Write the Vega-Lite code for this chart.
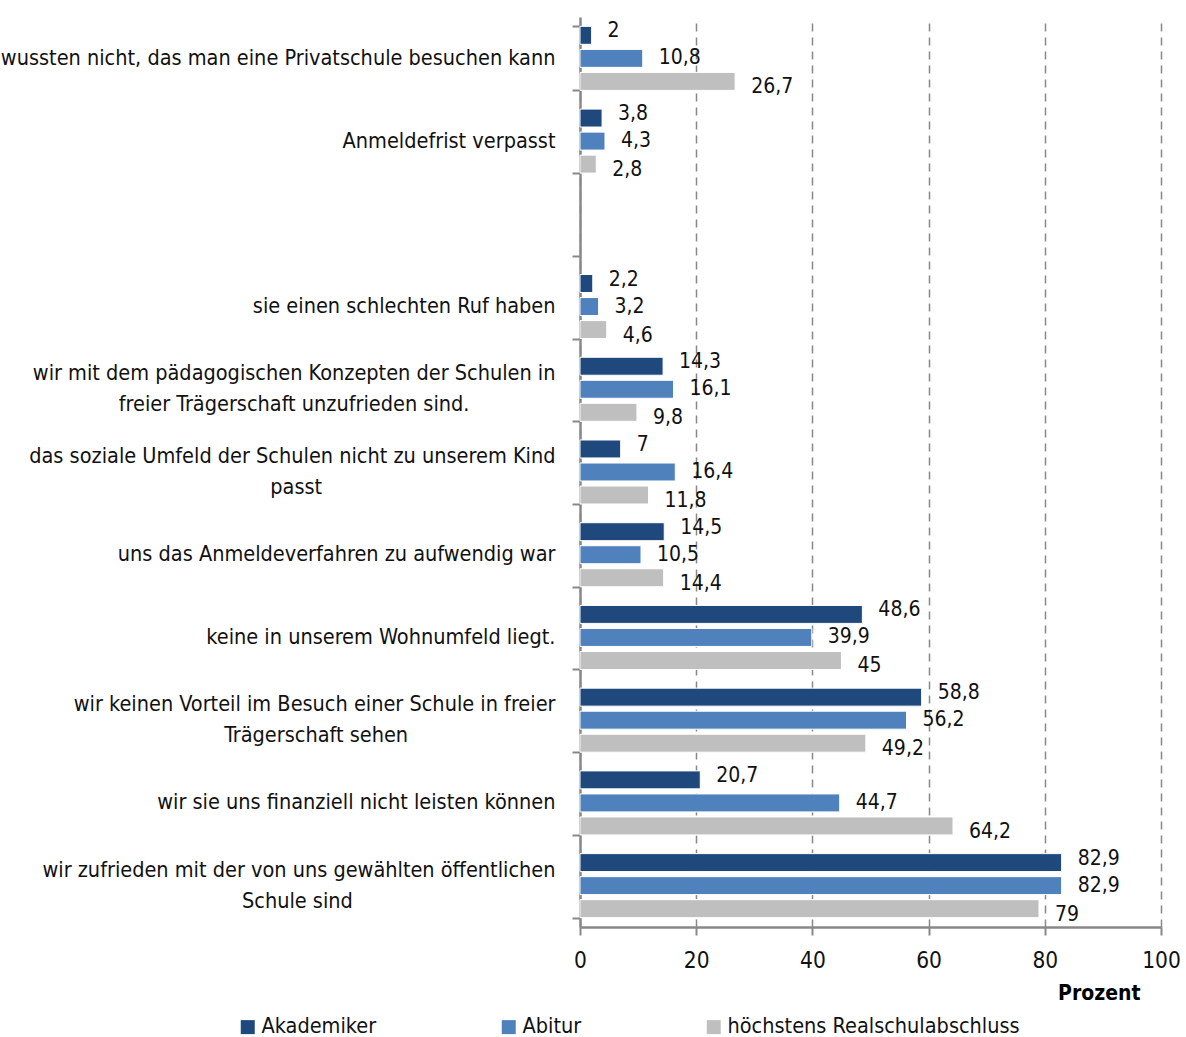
{
  "$schema": "https://vega.github.io/schema/vega-lite/v6.json",
  "autosize": {"type": "none"},
  "width": 581,
  "height": 910,
  "padding": {"left": 580, "top": 17, "right": 25, "bottom": 110},
  "background": "white",
  "config": {
    "locale": {"number": {"decimal": ",", "thousands": ".", "grouping": [3], "currency": ["", " €"]}},
    "font": "DejaVu Sans Condensed, sans-serif",
    "view": {"stroke": null},
    "axis": {"labelFont": "DejaVu Sans Condensed, sans-serif", "titleFont": "DejaVu Sans Condensed, sans-serif", "labelColor": "#111111", "titleColor": "#000"},
    "legend": {"labelFont": "DejaVu Sans Condensed, sans-serif"},
    "text": {"font": "DejaVu Sans Condensed, sans-serif"}
  },
  "data": {"values": [
    {"cat": "wussten nicht, das man eine Privatschule besuchen kann", "group": "Akademiker", "value": 2},
    {"cat": "wussten nicht, das man eine Privatschule besuchen kann", "group": "Abitur", "value": 10.8},
    {"cat": "wussten nicht, das man eine Privatschule besuchen kann", "group": "höchstens Realschulabschluss", "value": 26.7},
    {"cat": "Anmeldefrist verpasst", "group": "Akademiker", "value": 3.8},
    {"cat": "Anmeldefrist verpasst", "group": "Abitur", "value": 4.3},
    {"cat": "Anmeldefrist verpasst", "group": "höchstens Realschulabschluss", "value": 2.8},
    {"cat": "sie einen schlechten Ruf haben", "group": "Akademiker", "value": 2.2},
    {"cat": "sie einen schlechten Ruf haben", "group": "Abitur", "value": 3.2},
    {"cat": "sie einen schlechten Ruf haben", "group": "höchstens Realschulabschluss", "value": 4.6},
    {"cat": "wir mit dem pädagogischen Konzepten der Schulen in|freier Trägerschaft unzufrieden sind.", "group": "Akademiker", "value": 14.3},
    {"cat": "wir mit dem pädagogischen Konzepten der Schulen in|freier Trägerschaft unzufrieden sind.", "group": "Abitur", "value": 16.1},
    {"cat": "wir mit dem pädagogischen Konzepten der Schulen in|freier Trägerschaft unzufrieden sind.", "group": "höchstens Realschulabschluss", "value": 9.8},
    {"cat": "das soziale Umfeld der Schulen nicht zu unserem Kind|passt", "group": "Akademiker", "value": 7},
    {"cat": "das soziale Umfeld der Schulen nicht zu unserem Kind|passt", "group": "Abitur", "value": 16.4},
    {"cat": "das soziale Umfeld der Schulen nicht zu unserem Kind|passt", "group": "höchstens Realschulabschluss", "value": 11.8},
    {"cat": "uns das Anmeldeverfahren zu aufwendig war", "group": "Akademiker", "value": 14.5},
    {"cat": "uns das Anmeldeverfahren zu aufwendig war", "group": "Abitur", "value": 10.5},
    {"cat": "uns das Anmeldeverfahren zu aufwendig war", "group": "höchstens Realschulabschluss", "value": 14.4},
    {"cat": "keine in unserem Wohnumfeld liegt.", "group": "Akademiker", "value": 48.6},
    {"cat": "keine in unserem Wohnumfeld liegt.", "group": "Abitur", "value": 39.9},
    {"cat": "keine in unserem Wohnumfeld liegt.", "group": "höchstens Realschulabschluss", "value": 45},
    {"cat": "wir keinen Vorteil im Besuch einer Schule in freier|Trägerschaft sehen", "group": "Akademiker", "value": 58.8},
    {"cat": "wir keinen Vorteil im Besuch einer Schule in freier|Trägerschaft sehen", "group": "Abitur", "value": 56.2},
    {"cat": "wir keinen Vorteil im Besuch einer Schule in freier|Trägerschaft sehen", "group": "höchstens Realschulabschluss", "value": 49.2},
    {"cat": "wir sie uns finanziell nicht leisten können", "group": "Akademiker", "value": 20.7},
    {"cat": "wir sie uns finanziell nicht leisten können", "group": "Abitur", "value": 44.7},
    {"cat": "wir sie uns finanziell nicht leisten können", "group": "höchstens Realschulabschluss", "value": 64.2},
    {"cat": "wir zufrieden mit der von uns gewählten öffentlichen|Schule sind", "group": "Akademiker", "value": 82.9},
    {"cat": "wir zufrieden mit der von uns gewählten öffentlichen|Schule sind", "group": "Abitur", "value": 82.9},
    {"cat": "wir zufrieden mit der von uns gewählten öffentlichen|Schule sind", "group": "höchstens Realschulabschluss", "value": 79}
  ]},
  "encoding": {
    "y": {
      "field": "cat", "type": "nominal", "sort": null,
      "scale": {
        "domain": [
          "wussten nicht, das man eine Privatschule besuchen kann",
          "Anmeldefrist verpasst",
          " ",
          "sie einen schlechten Ruf haben",
          "wir mit dem pädagogischen Konzepten der Schulen in|freier Trägerschaft unzufrieden sind.",
          "das soziale Umfeld der Schulen nicht zu unserem Kind|passt",
          "uns das Anmeldeverfahren zu aufwendig war",
          "keine in unserem Wohnumfeld liegt.",
          "wir keinen Vorteil im Besuch einer Schule in freier|Trägerschaft sehen",
          "wir sie uns finanziell nicht leisten können",
          "wir zufrieden mit der von uns gewählten öffentlichen|Schule sind"
        ],
        "paddingInner": 0.226, "paddingOuter": 0.113
      },
      "axis": {
        "title": null,
        "labelExpr": "indexof(datum.label, '|') < 0 ? datum.label : [split(datum.label, '|')[0], split(datum.label, '|')[1] + pad('\u00a0', indexof(datum.label, 'Konzepten') >= 0 ? 14 : indexof(datum.label, 'Umfeld') >= 0 ? 38 : indexof(datum.label, 'Vorteil') >= 0 ? 24 : 33, '\u00a0') + '\u200b']",
        "labelOffset": {"condition": {"test": "indexof(datum.label, '|') >= 0", "value": -15.5}, "value": 0},
        "labelFontSize": 21.5,
        "labelLineHeight": 31,
        "labelPadding": 17,
        "labelLimit": 700,
        "tickBand": "extent",
        "tickSize": 8,
        "tickWidth": 2,
        "tickColor": "#888888",
        "domainColor": "#888888",
        "domainWidth": 2.5
      }
    },
    "yOffset": {
      "field": "group", "type": "nominal",
      "scale": {"domain": ["Akademiker", "Abitur", "höchstens Realschulabschluss"], "paddingInner": 0.22}
    },
    "x": {
      "field": "value", "type": "quantitative",
      "scale": {"domain": [0, 100], "nice": false},
      "axis": {
        "title": "Prozent",
        "values": [0, 20, 40, 60, 80, 100],
        "labelFontSize": 22.5,
        "labelPadding": 14,
        "labelFlush": false,
        "labelColor": "#111111",
        "tickSize": 8,
        "tickWidth": 2,
        "tickColor": "#888888",
        "domainColor": "#888888",
        "domainWidth": 2.5,
        "grid": true,
        "gridColor": "#888888",
        "gridWidth": 1.5,
        "gridDash": [8, 6],
        "titleFontSize": 21,
        "titleFontWeight": "bold",
        "titleAnchor": "end",
        "titleAlign": "right",
        "titleBaseline": "top",
        "titleX": 560,
        "titleY": 55
      }
    }
  },
  "layer": [
    {
      "mark": {"type": "bar", "stroke": "white", "strokeWidth": 1},
      "encoding": {
        "color": {
          "field": "group", "type": "nominal",
          "scale": {"domain": ["Akademiker", "Abitur", "höchstens Realschulabschluss"], "range": ["#1f497d", "#4f81bd", "#bfbfbf"]},
          "legend": {
            "title": null,
            "orient": "none",
            "direction": "horizontal",
            "legendX": -343,
            "legendY": 999,
            "symbolType": "square",
            "symbolSize": 196,
            "symbolStrokeWidth": 0,
            "labelFontSize": 21.5,
            "labelColor": "#111111",
            "labelOffset": 3,
            "labelLimit": 500,
            "columnPadding": 121
          }
        }
      }
    },
    {
      "transform": [{"filter": "datum.group === 'Akademiker'"}],
      "mark": {"type": "text", "align": "left", "baseline": "middle", "dx": 16, "dy": -4, "fontSize": 21, "color": "#111111"},
      "encoding": {"text": {"field": "value", "type": "quantitative", "format": "~g"}}
    },
    {
      "transform": [{"filter": "datum.group === 'Abitur'"}],
      "mark": {"type": "text", "align": "left", "baseline": "middle", "dx": 16, "dy": 0, "fontSize": 21, "color": "#111111"},
      "encoding": {"text": {"field": "value", "type": "quantitative", "format": "~g"}}
    },
    {
      "transform": [{"filter": "datum.group === 'höchstens Realschulabschluss'"}],
      "mark": {"type": "text", "align": "left", "baseline": "middle", "dx": 16, "dy": 6, "fontSize": 21, "color": "#111111"},
      "encoding": {"text": {"field": "value", "type": "quantitative", "format": "~g"}}
    }
  ]
}
